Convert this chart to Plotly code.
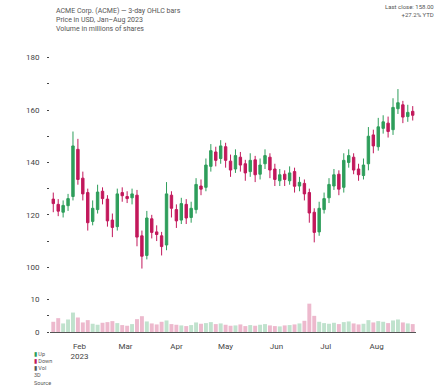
import pandas as pd
import plotly.graph_objects as go
from plotly.subplots import make_subplots

# ---- data ----
open_ = [126.0,124.0,121.0,123.5,127.0,145.0,134.0,128.5,117.5,122.0,
         129.0,126.0,118.0,115.5,128.5,127.0,126.5,127.5,112.0,104.5,
         118.5,113.5,112.0,108.5,127.5,122.0,118.0,124.0,119.0,122.0,
         131.0,130.5,138.5,144.0,141.5,146.0,140.5,137.5,142.0,139.5,
         136.5,141.0,135.5,139.5,142.0,137.5,133.0,135.5,133.0,136.5,
         131.0,132.0,128.5,121.0,113.5,122.0,126.5,131.0,135.5,130.5,
         140.0,142.0,137.5,135.0,139.5,150.5,146.0,153.0,155.0,152.5,
         160.5,162.0,157.5,159.5]
high = [128.5,126.0,125.5,128.0,151.8,149.0,136.5,130.0,125.5,131.5,
        130.5,127.5,120.5,130.0,130.5,129.0,130.0,129.5,114.0,121.5,
        120.0,116.0,113.5,132.5,129.0,124.0,126.5,126.0,125.0,134.0,
        133.5,141.5,147.0,146.0,148.5,147.5,143.0,145.0,144.0,141.0,
        143.5,142.5,141.5,145.0,143.5,139.5,137.5,137.0,138.5,138.0,
        134.5,133.5,130.0,122.5,125.0,128.5,134.0,137.5,137.0,143.5,
        145.0,143.5,139.5,141.5,153.5,152.5,157.0,158.0,157.5,164.5,
        168.0,163.5,162.0,161.5]
low = [121.0,119.5,119.0,121.5,125.5,131.5,125.5,114.0,116.0,120.5,
       124.0,115.5,111.5,114.0,125.0,124.5,124.0,108.0,99.5,103.0,
       111.0,110.0,104.5,106.5,119.0,115.0,116.5,116.5,117.0,120.5,
       127.5,129.0,136.5,138.5,139.5,138.0,134.5,136.0,136.5,133.0,
       134.5,132.5,133.5,137.5,134.0,131.0,131.0,131.0,131.5,128.5,
       129.0,125.5,117.0,109.5,112.0,120.5,124.5,129.5,127.5,128.5,
       138.0,135.5,133.0,133.5,137.0,143.5,144.5,151.0,149.5,150.5,
       158.5,155.0,155.5,156.0]
close = [124.3,121.4,123.6,126.2,146.3,133.5,128.0,117.0,122.5,128.7,
         126.2,117.7,115.2,128.0,127.3,126.2,128.0,111.5,104.2,118.8,
         113.3,112.5,107.9,128.0,122.5,117.7,124.3,118.8,122.5,131.6,
         129.8,139.0,144.5,140.8,146.3,140.8,137.1,142.6,139.0,136.0,
         140.8,135.3,139.0,142.6,137.1,133.5,135.3,133.5,136.0,130.9,
         132.4,128.0,120.7,113.3,122.5,126.2,131.6,135.3,129.8,140.8,
         142.6,137.1,135.3,139.0,150.0,146.3,153.6,155.5,151.8,161.0,
         162.8,157.3,159.1,158.0]
volume = [3.1,4.2,2.6,3.8,5.9,4.4,2.9,3.6,2.5,2.2,
          2.8,3.0,3.3,2.7,2.1,1.9,2.4,3.9,4.8,3.2,
          2.6,2.3,3.1,3.5,2.4,2.2,2.0,1.8,2.1,2.9,
          2.5,2.7,3.0,2.4,2.6,2.2,1.9,2.0,2.3,1.8,
          2.1,1.9,2.2,2.4,2.0,1.8,1.7,2.0,2.1,2.3,
          2.6,3.4,8.6,4.9,3.1,2.7,2.5,2.8,2.4,3.0,
          3.2,2.6,2.3,2.5,3.6,2.9,3.3,3.1,2.7,3.5,
          3.8,2.9,2.6,2.4]
start_date = "2023-01-16"
dates = pd.date_range(start_date, periods=len(close), freq="3D")
x_range = ["2023-01-14", "2023-08-25"]

inc_color = "#2e9e5b"
dec_color = "#c2185b"
vol_colors = [inc_color if c >= o else dec_color for o, c in zip(open_, close)]

fig = make_subplots(rows=2, cols=1, shared_xaxes=True, vertical_spacing=0.065,
                    row_heights=[0.86, 0.14])

fig.add_trace(go.Candlestick(
    x=dates, open=open_, high=high, low=low, close=close, name="ACME (OHLC)",
    increasing=dict(line=dict(color=inc_color, width=1), fillcolor=inc_color),
    decreasing=dict(line=dict(color=dec_color, width=1), fillcolor=dec_color),
    whiskerwidth=0, showlegend=False,
), row=1, col=1)

fig.add_trace(go.Bar(x=dates, y=volume, name="Volume (M)",
                     marker=dict(color=vol_colors, line=dict(width=0)),
                     opacity=0.3, showlegend=False), row=2, col=1)

axis_font = dict(family="Roboto", size=8, color="#444")
nb = "\u00a0\u00a0\u00a0"
fig.update_xaxes(rangeslider_visible=False, showgrid=False, tickfont=axis_font,
                 ticks="outside", ticklen=6, tickcolor="rgba(0,0,0,0)",
                 dtick="M1", tickformat="%b\n%Y", showline=False,
                 automargin=False, range=x_range)
fig.update_xaxes(showline=True, linecolor="#555", linewidth=1, row=2, col=1)
fig.update_yaxes(showgrid=False, tickfont=axis_font, ticks="outside", ticklen=2,
                 tickcolor="#444", zeroline=False, automargin=False, ticksuffix=nb)
fig.update_yaxes(range=[96, 181], dtick=10, tick0=100, ticklabelstep=2, row=1, col=1)
fig.update_yaxes(range=[0, 11], dtick=5, ticklabelstep=2, row=2, col=1)

fig.update_layout(
    width=440, height=391,
    margin=dict(l=50, r=24, t=55, b=59, autoexpand=False),
    paper_bgcolor="white", plot_bgcolor="white",
    font=dict(family="Roboto", size=8, color="#444"),
    showlegend=False,
    annotations=[
        dict(text="ACME Corp. (ACME) — 3‑day OHLC bars<br>Price in USD, Jan–Aug 2023<br>Volume in millions of shares",
             xref="paper", yref="paper", x=0.01, y=1.18, xanchor="left", yanchor="top",
             align="left", showarrow=False, font=dict(size=7, color="#555")),
        dict(text="Last close: 158.00<br>+27.2% YTD",
             xref="paper", yref="paper", x=1.055, y=1.195, xanchor="right", yanchor="top",
             align="right", showarrow=False, font=dict(size=6, color="#555")),
        dict(text="<span style='color:#2e9e5b'>▮</span> Up<br><span style='color:#c2185b'>▮</span> Down<br>▮ Vol<br>3D<br>Source",
             xref="paper", yref="paper", x=-0.05, y=-0.06, xanchor="left", yanchor="top",
             align="left", showarrow=False, font=dict(size=5.5, color="#555")),
    ],
)

fig.write_html("out.html", config={"displayModeBar": False},
               post_script="document.body.style.margin='0';")
